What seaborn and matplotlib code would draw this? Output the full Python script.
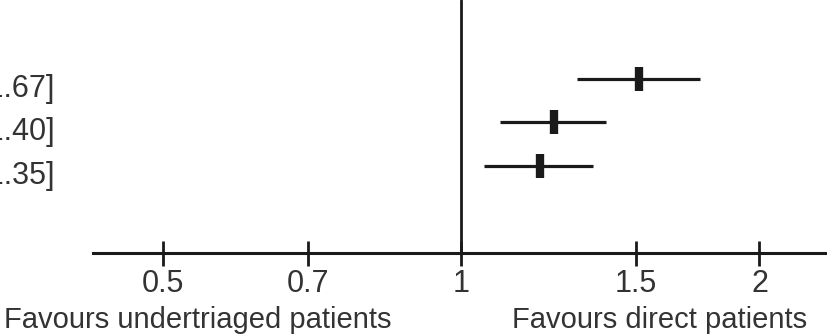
import matplotlib
matplotlib.use("Agg")
import matplotlib.pyplot as plt
import matplotlib.transforms as mtransforms
import seaborn as sns
import pandas as pd

# data
rows = [0, 1, 2]
estimates = [1.51, 1.24, 1.20]
ci_low = [1.31, 1.095, 1.055]
ci_high = [1.74, 1.40, 1.36]
labels = ["1.51 [1.37, 1.67]", "1.24 [1.10, 1.40]", "1.20 [1.06, 1.35]"]
xticks = [0.5, 0.7, 1, 1.5, 2]
xticklabels = ["0.5", "0.7", "1", "1.5", "2"]
left_note = "Favours undertriaged patients"
right_note = "Favours direct patients"

df = pd.DataFrame({"row": rows, "est": estimates, "lo": ci_low, "hi": ci_high})

sns.set_theme(style="white")
plt.rcParams["font.family"] = ["Liberation Sans", "DejaVu Sans"]
ink = "#1a1a1a"
txt = "#333333"
fs = 22
fs_note = 21

fig = plt.figure(figsize=(8.27, 3.36), dpi=100)
ax = fig.add_axes([93 / 827, 83 / 336, 1 - 93 / 827, 1 - 83 / 336])

ax.set_xscale("log")
ax.set_xlim(0.425, 2.34)
ax.set_ylim(4.0, -1.816)

# CI lines
ax.hlines(df["row"], df["lo"], df["hi"], color=ink, lw=2.3, zorder=2)
# point markers (tall rectangles)
sns.scatterplot(data=df, x="est", y="row", marker="|", s=300, linewidth=6,
                color=ink, ax=ax, zorder=3, legend=False)

# vertical reference line at 1
ax.axvline(1, color=ink, lw=2.0, zorder=1)

# spines
for s in ["top", "right", "left"]:
    ax.spines[s].set_visible(False)
ax.spines["bottom"].set_color(ink)
ax.spines["bottom"].set_linewidth(2.2)

ax.set_xticks(xticks)
ax.set_xticklabels(xticklabels)
ax.xaxis.set_minor_locator(matplotlib.ticker.NullLocator())
ax.tick_params(axis="x", direction="inout", length=18, width=2, color=ink,
               labelsize=fs, labelcolor=txt, pad=2.5, bottom=True)
ax.set_yticks([])
ax.set_xlabel("")
ax.set_ylabel("")

# left labels (partially cut off at the figure edge like the reference)
trans = mtransforms.blended_transform_factory(ax.transAxes, ax.transData)
for r, lab in zip(rows, labels):
    ax.text(-0.052, r + 0.41, lab, transform=trans, ha="right", va="baseline",
            fontsize=fs, color=txt, clip_on=False)

fig.text(198 / 827, 8 / 336, left_note, ha="center", va="baseline",
         fontsize=fs_note, color=txt)
fig.text(660 / 827, 8 / 336, right_note, ha="center", va="baseline",
         fontsize=fs_note, color=txt)

fig.savefig("out.png", dpi=100)
